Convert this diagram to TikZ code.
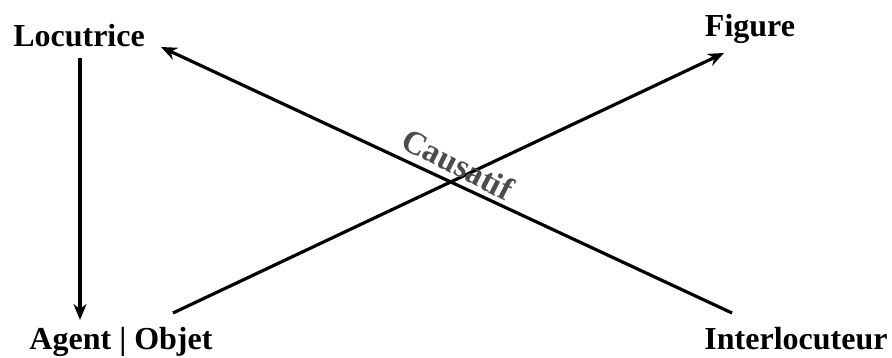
\documentclass[tikz,border=0pt]{standalone}
\usepackage{fontspec}
\setmainfont{Liberation Serif}
\usetikzlibrary{arrows.meta}
\begin{document}
\begin{tikzpicture}[x=1pt,y=-1pt,
  lbl/.style={font=\fontsize{32}{36}\selectfont\bfseries, inner sep=0pt, anchor=base},
  conn/.style={line width=3.2pt, -{Stealth[length=16pt,width=13pt]}},
  plainline/.style={line width=3pt}]
\useasboundingbox (0,0) rectangle (892,358);
\node[lbl] (loc) at (79,47) {Locutrice};
\node[lbl] (fig) at (750,37) {Figure};
\node[lbl] (ag) at (121,349) {Agent | Objet};
\node[lbl] (int) at (796,349) {Interlocuteur};
\coordinate (locbot) at (80,58);
\coordinate (agtop) at (80,320);
\coordinate (agr) at (173,313);
\coordinate (figl) at (724,53);
\coordinate (intl) at (732,313);
\coordinate (locr) at (161,47);
\draw[conn] (locbot) -- (agtop);
\draw[conn] (agr) -- (figl);
\draw[conn] (intl) -- (locr);
\node[font=\fontsize{33}{36}\selectfont\bfseries, text=black!70, rotate=-27, inner sep=0pt] (caus) at (458,164) {Causatif};
\end{tikzpicture}
\end{document}
